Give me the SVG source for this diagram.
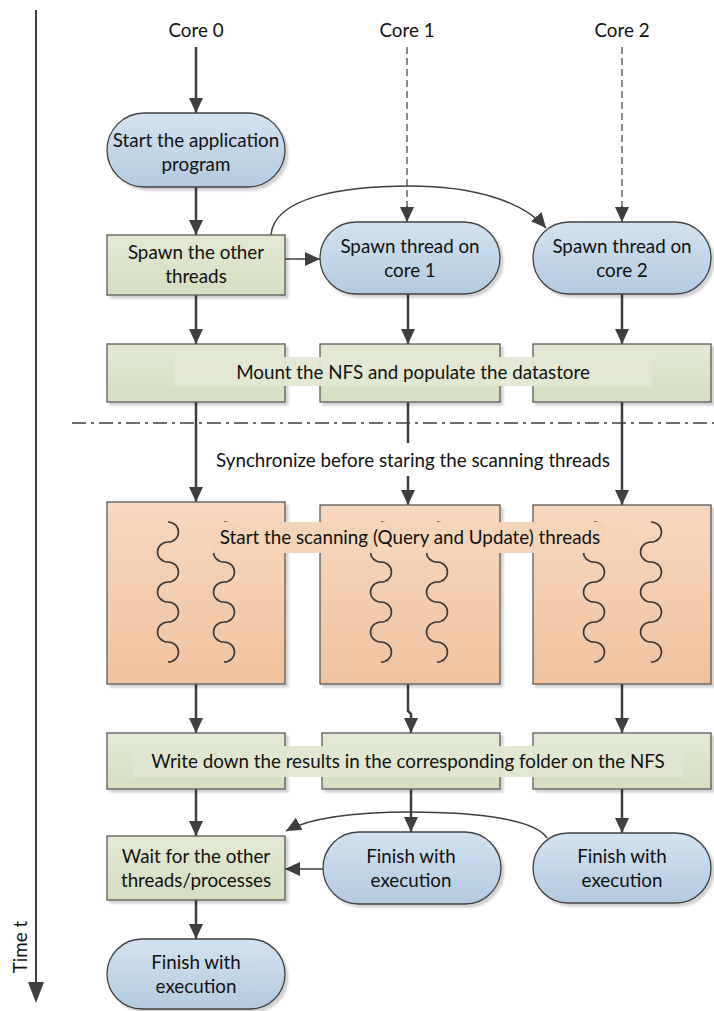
<svg xmlns="http://www.w3.org/2000/svg" width="714" height="1011" viewBox="0 0 714 1011">
  <defs>
    <linearGradient id="gBlue" x1="0" y1="0" x2="0" y2="1">
      <stop offset="0" stop-color="#d3e2f0"/>
      <stop offset="1" stop-color="#b3cae1"/>
    </linearGradient>
    <linearGradient id="gGreen" x1="0" y1="0" x2="0" y2="1">
      <stop offset="0" stop-color="#e3e9d4"/>
      <stop offset="1" stop-color="#d5debf"/>
    </linearGradient>
    <linearGradient id="gOrange" x1="0" y1="0" x2="0" y2="1">
      <stop offset="0" stop-color="#f7d8bf"/>
      <stop offset="1" stop-color="#f0c29e"/>
    </linearGradient>
    <filter id="shadow" x="-5%" y="-5%" width="115%" height="115%">
      <feGaussianBlur in="SourceAlpha" stdDeviation="1"/>
      <feOffset dx="3" dy="3" result="o"/>
      <feComponentTransfer><feFuncA type="linear" slope="0.18"/></feComponentTransfer>
      <feMerge><feMergeNode/><feMergeNode in="SourceGraphic"/></feMerge>
    </filter>
    <marker id="arrow" markerUnits="userSpaceOnUse" markerWidth="16" markerHeight="14" refX="15" refY="7" orient="auto">
      <path d="M0,0 L15,7 L0,14 z" fill="#3f3f3f"/>
    </marker>
    <path id="wave" d="M0,0 a10.5,10 0 0 1 0,20 a10.5,10 0 0 0 0,20 a10.5,10 0 0 1 0,20 a10.5,10 0 0 0 0,20 a10.5,10 0 0 1 0,20 a10.5,10 0 0 0 0,20 a10.5,10 0 0 1 0,20"/>
  </defs>
  <style>
    text { font-family: "Lato", "Liberation Sans", sans-serif; font-size: 18.8px; fill: #111; text-anchor: middle; }
    .pill { fill: url(#gBlue); stroke: #404040; stroke-width: 1.3; filter: url(#shadow); }
    .green { fill: url(#gGreen); stroke: #595959; stroke-width: 1.3; filter: url(#shadow); }
    .orange { fill: url(#gOrange); stroke: #595959; stroke-width: 1.3; filter: url(#shadow); }
    .conn { fill: none; stroke: #3f3f3f; stroke-width: 2.5; }
    .thin { fill: none; stroke: #3f3f3f; stroke-width: 1.5; }
    .dash { fill: none; stroke: #3f3f3f; stroke-width: 1.2; stroke-dasharray: 7 4; }
    .wave { fill: none; stroke: #3a3a3a; stroke-width: 1.6; }
  </style>

  <rect width="714" height="1011" fill="#ffffff"/>

  <!-- time axis -->
  <g id="time-axis">
    <line x1="36" y1="10" x2="36" y2="984" stroke="#3f3f3f" stroke-width="2"/>
    <path d="M28,982 L44,982 L36,1003 z" fill="#3f3f3f"/>
    <text transform="translate(27,947) rotate(-90)">Time t</text>
  </g>

  <!-- core headers -->
  <g id="core-labels">
    <text x="196" y="37">Core 0</text>
    <text x="407" y="37">Core 1</text>
    <text x="622" y="37">Core 2</text>
  </g>

  <!-- synchronisation barrier -->
  <g id="barrier">
    <line x1="72" y1="423" x2="714" y2="423" stroke="#3f3f3f" stroke-width="1.3" stroke-dasharray="14 5 3 5"/>
    <text x="413" y="467">Synchronize before staring the scanning threads</text>
  </g>

  <!-- connectors -->
  <g id="connectors">
    <line class="conn" x1="196" y1="47" x2="196" y2="113" marker-end="url(#arrow)"/>
    <line class="dash" x1="407" y1="47" x2="407" y2="208"/>
    <line class="thin" x1="407" y1="206" x2="407" y2="222" marker-end="url(#arrow)"/>
    <line class="dash" x1="622" y1="47" x2="622" y2="208"/>
    <line class="thin" x1="622" y1="206" x2="622" y2="222" marker-end="url(#arrow)"/>

    <line class="conn" x1="196" y1="187" x2="196" y2="235" marker-end="url(#arrow)"/>
    <line class="thin" x1="285" y1="259" x2="320" y2="259" marker-end="url(#arrow)"/>
    <path class="thin" d="M271,235 C274,198 340,186 410,186 C470,186 522,200 546,228" marker-end="url(#arrow)"/>

    <line class="conn" x1="196" y1="295" x2="196" y2="344" marker-end="url(#arrow)"/>
    <line class="conn" x1="408" y1="294" x2="408" y2="344" marker-end="url(#arrow)"/>
    <line class="conn" x1="622" y1="294" x2="622" y2="344" marker-end="url(#arrow)"/>

    <line class="conn" x1="196" y1="402" x2="196" y2="502" marker-end="url(#arrow)"/>
    <line class="conn" x1="408" y1="402" x2="408" y2="443"/>
    <line class="conn" x1="408" y1="476" x2="408" y2="505" marker-end="url(#arrow)"/>
    <line class="conn" x1="622" y1="402" x2="622" y2="505" marker-end="url(#arrow)"/>

    <line class="conn" x1="196" y1="684" x2="196" y2="733" marker-end="url(#arrow)"/>
    <path class="conn" d="M408,684 L408,711 L411,714 L411,733" marker-end="url(#arrow)"/>
    <line class="conn" x1="622" y1="684" x2="622" y2="733" marker-end="url(#arrow)"/>

    <line class="conn" x1="196" y1="789" x2="196" y2="836" marker-end="url(#arrow)"/>
    <line class="conn" x1="411" y1="789" x2="411" y2="832" marker-end="url(#arrow)"/>
    <line class="conn" x1="622" y1="789" x2="622" y2="833" marker-end="url(#arrow)"/>

    <line class="thin" x1="323" y1="869" x2="285" y2="869" marker-end="url(#arrow)"/>
    <path class="thin" d="M547,838 C536,820 480,812 410,812 C350,812 310,818 286,831" marker-end="url(#arrow)"/>

    <line class="conn" x1="196" y1="900" x2="196" y2="939" marker-end="url(#arrow)"/>
  </g>

  <!-- core 0 -->
  <g id="start-app">
    <rect class="pill" x="107" y="113" width="178" height="74" rx="37"/>
    <text x="196" y="147">Start the application</text>
    <text x="196" y="171">program</text>
  </g>
  <g id="spawn-others">
    <rect class="green" x="107" y="235" width="178" height="60"/>
    <text x="196" y="259">Spawn the other</text>
    <text x="196" y="283">threads</text>
  </g>

  <!-- core 1 / core 2 spawn -->
  <g id="spawn-core1">
    <rect class="pill" x="320" y="222" width="180" height="72" rx="36"/>
    <text x="410" y="253">Spawn thread on</text>
    <text x="410" y="277">core 1</text>
  </g>
  <g id="spawn-core2">
    <rect class="pill" x="533" y="222" width="178" height="72" rx="36"/>
    <text x="622" y="253">Spawn thread on</text>
    <text x="622" y="277">core 2</text>
  </g>

  <!-- mount stage -->
  <g id="mount">
    <rect class="green" x="107" y="344" width="178" height="58"/>
    <rect class="green" x="320" y="344" width="180" height="58"/>
    <rect class="green" x="533" y="344" width="178" height="58"/>
    <rect x="174" y="357" width="478" height="29" fill="#e2e8d3" fill-opacity="0.95"/>
    <text x="413" y="379">Mount the NFS and populate the datastore</text>
  </g>

  <!-- scanning stage -->
  <g id="scanning">
    <rect class="orange" x="107" y="502" width="178" height="182"/>
    <rect class="orange" x="320" y="505" width="180" height="179"/>
    <rect class="orange" x="533" y="505" width="178" height="179"/>
    <use href="#wave" class="wave" x="168" y="522"/>
    <use href="#wave" class="wave" x="224" y="522"/>
    <use href="#wave" class="wave" x="381" y="522"/>
    <use href="#wave" class="wave" x="437" y="522"/>
    <use href="#wave" class="wave" x="594" y="522"/>
    <use href="#wave" class="wave" x="651" y="522"/>
    <rect x="188" y="522" width="445" height="31" fill="#f5d4b8" fill-opacity="0.97"/>
    <text x="410" y="544">Start the scanning (Query and Update) threads</text>
  </g>

  <!-- write-back stage -->
  <g id="write-results">
    <rect class="green" x="107" y="733" width="178" height="56"/>
    <rect class="green" x="322" y="733" width="178" height="56"/>
    <rect class="green" x="533" y="733" width="178" height="56"/>
    <rect x="133" y="746" width="550" height="31" fill="#e0e6cf" fill-opacity="0.97"/>
    <text x="408" y="768">Write down the results in the corresponding folder on the NFS</text>
  </g>

  <!-- completion -->
  <g id="wait-others">
    <rect class="green" x="107" y="836" width="178" height="64"/>
    <text x="196" y="863">Wait for the other</text>
    <text x="196" y="887">threads/processes</text>
  </g>
  <g id="finish-core1">
    <rect class="pill" x="323" y="832" width="178" height="72" rx="36"/>
    <text x="411" y="863">Finish with</text>
    <text x="411" y="887">execution</text>
  </g>
  <g id="finish-core2">
    <rect class="pill" x="533" y="833" width="178" height="70" rx="35"/>
    <text x="622" y="863">Finish with</text>
    <text x="622" y="887">execution</text>
  </g>
  <g id="finish-core0">
    <rect class="pill" x="107" y="939" width="178" height="70" rx="35"/>
    <text x="196" y="969">Finish with</text>
    <text x="196" y="993">execution</text>
  </g>
</svg>
